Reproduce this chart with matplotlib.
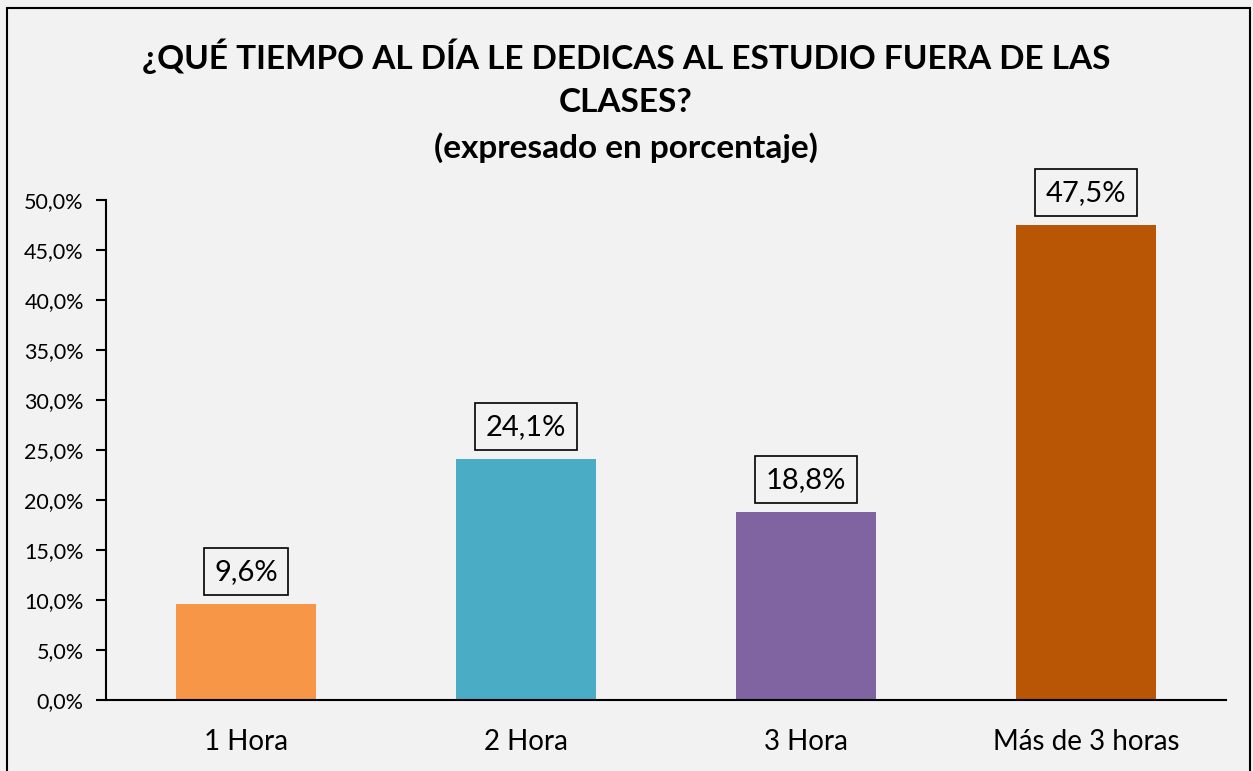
import matplotlib
matplotlib.use("Agg")
import matplotlib.pyplot as plt
from matplotlib.patches import Rectangle
from matplotlib.ticker import FuncFormatter

categories = ["1 Hora", "2 Hora", "3 Hora", "Más de 3 horas"]
values = [9.6, 24.1, 18.8, 47.5]
colors = ["#F79646", "#4BACC6", "#8064A2", "#B85605"]
title = "¿QUÉ TIEMPO AL DÍA LE DEDICAS AL ESTUDIO FUERA DE LAS\nCLASES?\n(expresado en porcentaje)"

plt.rcParams['font.family'] = ['Lato', 'DejaVu Sans']
W, H = 1253, 771
fig = plt.figure(figsize=(W/100, H/100), dpi=100, facecolor="#F2F2F2")
fig.patches.append(Rectangle((7/W, -0.01), (1250-7)/W, 1.01 - 8/H, transform=fig.transFigure,
                             fill=False, edgecolor="#000000", linewidth=1.5))
ax = fig.add_axes([106/W, 71/H, (1226-106)/W, 500/H])
ax.set_facecolor("#F2F2F2")
x = range(len(categories))
ax.bar(x, values, width=0.5, color=colors, zorder=2)
ax.set_xlim(-0.5, len(categories) - 0.5)
ax.set_ylim(0, 50)
ax.set_yticks([i * 5 for i in range(11)])
ax.yaxis.set_major_formatter(FuncFormatter(lambda v, p: f"{v:.1f}%".replace(".", ",")))
ax.set_xticks(list(x))
ax.set_xticklabels(categories, fontsize=20)
ax.tick_params(axis='y', labelsize=15.5, length=7, width=1.5, pad=9)
ax.tick_params(axis='x', length=0, pad=21)
for s in ["top", "right"]:
    ax.spines[s].set_visible(False)
for s in ["left", "bottom"]:
    ax.spines[s].set_linewidth(1.5)
for xi, v in zip(x, values):
    ax.annotate(f"{v:.1f}%".replace(".", ","), (xi, v), xytext=(0, 14), textcoords="offset points",
                ha="center", va="bottom", fontsize=21,
                bbox=dict(boxstyle="square,pad=0.36", facecolor="#F2F2F2", edgecolor="black", linewidth=1.2))
fig.text(626/W, 1 - 38/H, title, ha="center", va="top", fontsize=24, fontweight="bold", linespacing=1.6)
fig.savefig("out.png", dpi=100, facecolor=fig.get_facecolor())
